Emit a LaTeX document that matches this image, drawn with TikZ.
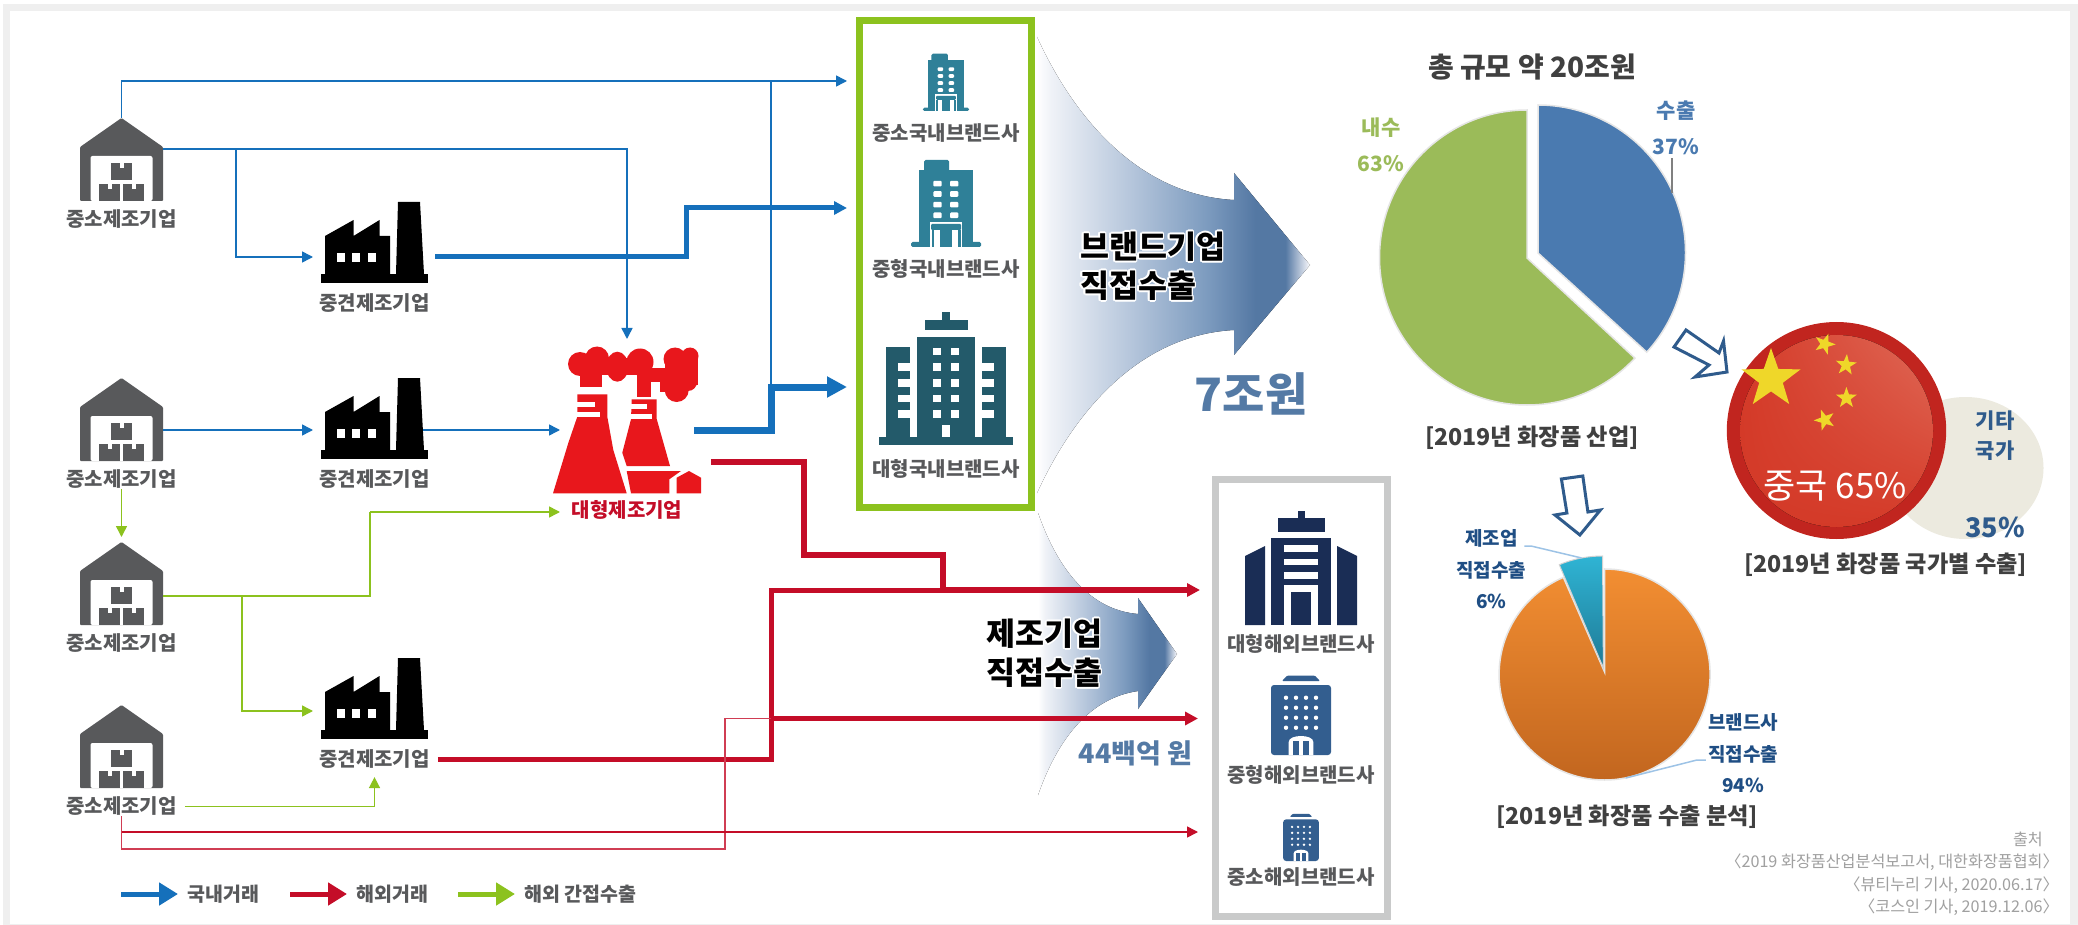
\documentclass[tikz,border=0pt]{standalone}
\usepackage{fontspec}
\usepackage{contour}
\setmainfont{Noto Sans CJK KR}
\usetikzlibrary{arrows.meta,calc,shapes.geometric,shadings}
\contourlength{1.6pt}
\definecolor{inkgray}{HTML}{58595B}
\definecolor{titlegray}{HTML}{404040}
\definecolor{srcgray}{HTML}{A0A0A0}
\definecolor{framegray}{HTML}{EFEFEF}
\definecolor{boxgray}{HTML}{C9CACA}
\definecolor{lineblue}{HTML}{1570BB}
\definecolor{linered}{HTML}{C40D28}
\definecolor{linegreen}{HTML}{8CC21E}
\definecolor{plantred}{HTML}{E8171C}
\definecolor{depotgray}{HTML}{58595B}
\definecolor{tealmid}{HTML}{2F8098}
\definecolor{tealdark}{HTML}{235A6A}
\definecolor{navybig}{HTML}{1A2D55}
\definecolor{navymid}{HTML}{335E8F}
\definecolor{steel}{HTML}{547AA5}
\definecolor{piegreen}{HTML}{9BBB59}
\definecolor{pieblue}{HTML}{4A7AB0}
\definecolor{deepblue}{HTML}{2F5B8C}
\definecolor{labelblue}{HTML}{1F4E84}
\definecolor{ringred}{HTML}{C1251F}
\definecolor{flagred}{HTML}{D43A28}
\definecolor{flagglow}{HTML}{E06A58}
\definecolor{flagyellow}{HTML}{EFD729}
\definecolor{beige}{HTML}{ECEADF}
\definecolor{pietop}{HTML}{F28E32}
\definecolor{piebottom}{HTML}{C2661F}
\definecolor{wedgetop}{HTML}{2FB4D4}
\definecolor{wedgebottom}{HTML}{1F7A96}
\definecolor{leaderblue}{HTML}{9DC3E6}
\pgfdeclarehorizontalshading{bigfade}{100bp}{rgb(0bp)=(1,1,1);rgb(25bp)=(1,1,1);rgb(27.5bp)=(.94,.95,.97);rgb(43.5bp)=(.69,.76,.85);rgb(56bp)=(.49,.61,.75);rgb(65bp)=(.33,.47,.64);rgb(70.5bp)=(.33,.47,.64);rgb(74.25bp)=(.87,.89,.93);rgb(75bp)=(1,1,1);rgb(100bp)=(1,1,1)}
\tikzset{
	pics/warehouse/.style={code={
		\fill[depotgray,rounded corners=1pt] (0,0) -- (41.5,29) -- (41.5,83) -- (-41.5,83) -- (-41.5,29) -- cycle;
		\fill[white,rounded corners=2pt] (-31,38) rectangle (31,83);
		\foreach \bx/\by in {-10.5/45,-22.5/66,1.5/66} {
			\fill[depotgray] (\bx,\by) rectangle ++(21,17);
			\fill[white] (\bx+8.5,\by) rectangle ++(4,5);
		}
	}},
	pics/factory/.style={code={
		\fill[black] (-53.5,72) rectangle (53.5,81);
		\fill[black] (23.5,0) -- (45.5,0) -- (49.5,72) -- (21.5,72) -- cycle;
		\fill[black] (-49.5,34) -- (-21,18) -- (-21,34) -- (5,18) -- (5,34) -- (15.5,34) -- (15.5,72) -- (-49.5,72) -- cycle;
		\foreach \wx in {-37.5,-22.5,-7} {\fill[white] (\wx,51) rectangle ++(8,9);}
	}},
	pics/tower/.style={code={
		\fill[#1] (-27,-77) rectangle (27,-5);
		\fill[#1,rounded corners=1.5pt] (-22,-87) rectangle (3,-70);
		\fill[#1,rounded corners=1.5pt] (-35,-5) rectangle (35,0);
		\foreach \wy in {-63.3,-53,-42.3,-31.7} {
			\fill[white,rounded corners=1pt] (-12.7,\wy-2.8) rectangle (-4.3,\wy+2.8);
			\fill[white,rounded corners=1pt] (4,\wy-2.8) rectangle (12.3,\wy+2.8);
		}
		\fill[white] (-16,-25) rectangle (16,0);
		\fill[#1,rounded corners=1pt] (-15,-23) rectangle (15,-17);
		\fill[#1] (-14.5,-17) rectangle (-12,0);
		\fill[#1] (12,-17) rectangle (14.5,0);
		\fill[#1] (-6,-17) rectangle (6,0);
	}},
	pics/slab/.style={code={
		\fill[#1] (-67,-8) rectangle (67,0);
		\fill[#1] (-29,-108) rectangle (29,-8);
		\fill[#1] (-21.5,-125) rectangle (21.5,-115);
		\fill[#1] (-4,-133) rectangle (4,-125);
		\fill[#1] (-60.3,-98) rectangle (-36,-8);
		\fill[#1] (36,-98) rectangle (60.3,-8);
		\foreach \wy in {-97.3,-81.7,-66,-50.3,-34.7} {
			\fill[white] (-13,\wy) rectangle ++(8,7.5);
			\fill[white] (4.7,\wy) rectangle ++(8,7.5);
		}
		\foreach \wy in {-81.7,-66,-50.3,-34.7} {
			\fill[white] (-47.7,\wy) rectangle ++(11.7,7.5);
			\fill[white] (36,\wy) rectangle ++(11.7,7.5);
		}
		\fill[white] (-4,-19.7) rectangle (4,-8);
	}},
	pics/hq/.style={code={
		\fill[#1] (-3.5,-114) rectangle (3.5,-107);
		\fill[#1] (-23.5,-107) rectangle (23.5,-93);
		\fill[#1] (-30,-87) rectangle (30,0);
		\fill[#1] (-56,0) -- (-56,-69) -- (-36,-79) -- (-36,0) -- cycle;
		\fill[#1] (56,0) -- (56,-69) -- (36,-79) -- (36,0) -- cycle;
		\foreach \wy in {-80,-66.3,-53} {\fill[white] (-16.7,\wy) rectangle ++(33.4,6.7);}
		\fill[white] (-16.7,-40) rectangle (16.7,0);
		\fill[#1] (-10,-33.3) rectangle (10,0);
	}},
	pics/dotted/.style={code={
		\fill[#1,rounded corners=3pt] (-30,-70) rectangle (30,0);
		\fill[#1,rounded corners=1pt] (-19,-74) -- (-14,-79.3) -- (14,-79.3) -- (19,-74) -- cycle;
		\foreach \dy in {-57.3,-47.3,-37.3,-27.3} {\foreach \dx in {-15,-5,5,15} {\fill[white] (\dx,\dy) circle[radius=2.2];}}
		\fill[white] (-12.3,0) -- (-12.3,-13) .. controls (-12.3,-21) and (12.3,-21) .. (12.3,-13) -- (12.3,0) -- cycle;
		\fill[#1] (-8,-14) rectangle (-2,0);
		\fill[#1] (2,-14) rectangle (8,0);
	}},
	iconbox/.style={inner sep=0,outer sep=0,minimum width=#1},
	lab/.style={inner sep=0,text=inkgray,font=\fontsize{20}{20}\selectfont\bfseries},
	chartcap/.style={inner sep=0,text=titlegray,font=\fontsize{23.2}{24}\selectfont\bfseries},
	tag/.style={inner sep=0,align=center,font=\fontsize{19}{31.5}\selectfont\bfseries,text=labelblue},
	src/.style={inner sep=0,anchor=east,text=srcgray,font=\fontsize{16.2}{16.5}\selectfont},
	bluethin/.style={draw=lineblue,line width=1.5pt},
	redthin/.style={draw=linered!80!white,line width=1.5pt},
	greenthin/.style={draw=linegreen,line width=1.5pt},
	arrowtip/.style={-{Triangle[length=#1pt,width=#1pt]}},
	hollow/.style={draw=deepblue,fill=white,line width=3pt,line join=miter},
	leader/.style={draw=#1,line width=1.5pt},
}
\begin{document}
\begin{tikzpicture}[x=1pt,y=-1pt]
	\useasboundingbox (0,0) rectangle (2078,925);
	\fill[framegray] (3,4) rectangle (2078,925);
	\fill[white] (10,11) rectangle (2070,924);

	\fill[shading=bigfade] (1037,37) .. controls (1075,120) and (1140,195) .. (1234,200) -- (1234,173) -- (1310,265) -- (1234,355) -- (1234,330) .. controls (1140,335) and (1075,410) .. (1037,493) -- cycle;
	\fill[shading=bigfade] (1038,513) .. controls (1058,570) and (1090,610) .. (1138,614) -- (1138,598) -- (1177,654) -- (1138,709) -- (1138,691) .. controls (1090,698) and (1058,738) .. (1038,795) -- cycle;

	\node[draw=linegreen,line width=7pt,minimum width=172pt,minimum height=487pt,inner sep=0] (dbox) at (945.5,264) {};
	\node[draw=boxgray,line width=7pt,minimum width=172pt,minimum height=437pt,inner sep=0] (gbox) at (1301.5,698) {};

	\foreach \id/\top in {1/118,2/378,3/542,4/705} {
		\node[iconbox=83pt,minimum height=83pt] (wh\id) at (121.5,\top+41.5) {};
		\pic at (wh\id.north) {warehouse};
		\node[lab] (wlab\id) at (121.5,\top+101.5) {중소제조기업};
	}
	\foreach \id/\top in {1/202,2/378,3/658} {
		\node[iconbox=107pt,minimum height=81pt] (fac\id) at (374.5,\top+40.5) {};
		\pic at (fac\id.north) {factory};
		\node[lab] (flab\id) at (374.5,\top+101.5) {중견제조기업};
	}

	\node[iconbox=134pt,minimum height=146pt] (plant) at (627,420) {};
	\begin{scope}[plantred]
		% smoke
		\fill (580,364) circle[radius=12];
		\fill (597,358.5) circle[radius=12];
		\fill (617.3,366.7) ellipse[x radius=11,y radius=15];
		\fill (640,362) circle[radius=13.5];
		\fill (575,358) rectangle (645,375);
		\fill (580,372) rectangle (601.7,386.7);
		\fill (636.7,365) rectangle (651,396.7);
		\fill (638.3,368.3) rectangle (665,381.7);
		\fill (660,376.7) rectangle (678.3,392);
		\fill (675,359) circle[radius=11.5];
		\fill (690,356) circle[radius=8.5];
		\fill (665,360) rectangle (684,385);
		\fill (678.3,355) rectangle (698.3,385);
		\fill (676.7,390) circle[radius=12];
		\fill (688,382) circle[radius=9];
		% towers
		\fill (577.3,394.3) -- (607.3,394.3) -- (607.3,416.7) -- (613.3,450) -- (626.7,493.3) -- (553,493.3) -- (568.3,443) -- (577.3,416.7) -- cycle;
		\fill (631.7,399.3) -- (656.7,399.3) -- (656.7,419) -- (670,466) -- (626.7,466) -- (622.3,452.7) -- (631,419.3) -- cycle;
		\fill (631,493.3) -- (626.7,471) -- (681,471) -- (669.3,479.3) -- (669.3,493.3) -- cycle;
		\fill (676.7,493.3) -- (676.7,477.7) -- (689,471) -- (701,477.7) -- (701,493.3) -- cycle;
	\end{scope}
	\fill[white] (576,402) rectangle (595,406.7);
	\fill[white] (576,411.7) rectangle (600,416.7);
	\fill[white] (630,404.3) rectangle (646.7,409.3);
	\fill[white] (630,414) rectangle (651.7,419.3);
	\node[lab,text=linered] (plab) at (627,510) {대형제조기업};

	\node[iconbox=92pt,minimum height=57pt] (b1) at (946,82.5) {};
	\pic[scale=.66] at (b1.south) {tower=tealmid};
	\node[lab] (b1lab) at (946,133) {중소국내브랜드사};
	\node[iconbox=70pt,minimum height=86pt] (b2) at (946,204) {};
	\pic at (b2.south) {tower=tealmid};
	\node[lab] (b2lab) at (946,269) {중형국내브랜드사};
	\node[iconbox=134pt,minimum height=133pt] (b3) at (946,378.5) {};
	\pic at (b3.south) {slab=tealdark};
	\node[lab] (b3lab) at (946,469) {대형국내브랜드사};

	\node[iconbox=112pt,minimum height=114pt] (o1) at (1301,568) {};
	\pic at (o1.south) {hq=navybig};
	\node[lab] (o1lab) at (1301,644) {대형해외브랜드사};
	\node[iconbox=60pt,minimum height=79pt] (o2) at (1301,715.5) {};
	\pic at (o2.south) {dotted=navymid};
	\node[lab] (o2lab) at (1301,775) {중형해외브랜드사};
	\node[iconbox=36pt,minimum height=47pt] (o3) at (1301,837.5) {};
	\pic[scale=.595] at (o3.south) {dotted=navymid};
	\node[lab] (o3lab) at (1301,877) {중소해외브랜드사};

	\coordinate (dom1) at (dbox.west |- 0,81);
	\coordinate (dom2) at (dbox.west |- 0,208);
	\coordinate (dom3) at (dbox.west |- 0,387);
	\coordinate (ovs1) at (gbox.west |- 0,590);
	\coordinate (ovs2) at (gbox.west |- 0,718.5);
	\coordinate (ovs3) at (gbox.west |- 0,832);
	\coordinate (wh1out) at ($(wh1.north east)+(0,31)$);
	\coordinate (wh2out) at ($(wh2.north east)+(0,52)$);
	\coordinate (wh3out) at ($(wh3.north east)+(0,54)$);
	\coordinate (fac1in) at ($(fac1.north west)+(0,55)$);
	\coordinate (fac2in) at ($(fac2.north west)+(0,52)$);
	\coordinate (fac3in) at ($(fac3.north west)+(0,53)$);
	\coordinate (fac2out) at ($(fac2.north east)+(-5,52)$);
	\coordinate (plantblue) at (plant.east |- 0,430);
	\coordinate (plantred) at (plant.east |- 0,462);
	\coordinate (plantgreen) at (plant.west |- 0,512);
	\coordinate (split) at (771,0);

	\draw[bluethin,arrowtip=11,shorten >=9pt] (wh1.north) |- (dom1);
	\draw[bluethin,arrowtip=11,shorten >=8pt] (wh1out) -| (plant.north);
	\draw[bluethin,arrowtip=11,shorten >=8pt] (wh1out -| 236,0) |- (fac1in);
	\draw[bluethin,arrowtip=11,shorten >=8pt] (wh2out) -- (fac2in);
	\draw[bluethin,arrowtip=11] (fac2out) -- (plant.west |- fac2out);
	\draw[bluethin] (split |- dom1) -- (split |- dom3);
	\draw[draw=lineblue,line width=5pt,arrowtip=13,shorten <=7pt,shorten >=9pt] (fac1.east |- fac1in) -| (686,208) -- (dom2);
	\draw[draw=lineblue,line width=7pt,arrowtip=20,shorten >=9pt] (plantblue) -| (split |- dom3) -- (dom3);

	\draw[greenthin,arrowtip=11,shorten >=5pt] (wlab2.south) -- (wh3.north);
	\draw[greenthin] (wh3out) -| (370,512);
	\draw[greenthin,arrowtip=11] (370,512) -- (plantgreen);
	\draw[greenthin,arrowtip=11,shorten >=8pt] (wh3out -| 242,0) |- (fac3in);
	\draw[greenthin,arrowtip=11,shorten <=8pt,shorten >=8pt] (wlab4.east) -| (flab3.south);

	\draw[draw=linered,line width=6pt,arrowtip=13,shorten >=12pt] (plantred -| 711,0) -| (804,555) -| (943,590) -- (ovs1);
	\draw[draw=linered,line width=5pt,shorten <=8pt] (flab3.east) -| (split |- ovs1) -- (943,590);
	\draw[draw=linered,line width=5pt,arrowtip=13,shorten >=14pt] (split |- ovs2) -- (ovs2);
	\draw[redthin] (wlab4.south) |- (725,849) |- (split |- ovs2);
	\draw[draw=linered,line width=1.5pt,arrowtip=11,shorten >=14pt] (121.5,832) -- (ovs3);

	\foreach \id/\col/\txt/\tx in {1/lineblue/국내거래/187,2/linered/해외거래/356,3/linegreen/해외 간접수출/524} {
		\node[lab,anchor=west,font=\fontsize{19.5}{20}\selectfont\bfseries] (leg\id) at (\tx,894) {\txt};
		\draw[draw=\col,line width=5pt,-{Triangle[length=19pt,width=22pt]},shorten >=9pt] ([xshift=-66pt]leg\id.west) -- (leg\id.west);
	}

	\node[inner sep=0,align=left,anchor=west,font=\fontsize{31.5}{39}\selectfont\bfseries] (brand) at (1080,267) {\contour{white}{브랜드기업}\\\contour{white}{직접수출}};
	\node[inner sep=0,align=left,anchor=west,font=\fontsize{31.5}{39}\selectfont\bfseries] (maker) at (986,654) {\contour{white}{제조기업}\\\contour{white}{직접수출}};
	\node[inner sep=0,text=steel,font=\fontsize{46}{46}\selectfont\bfseries] (seven) at (1251,394) {7조원};
	\node[inner sep=0,text=steel,font=\fontsize{27}{27}\selectfont\bfseries] (fortyfour) at (1135.5,753) {44백억 원};

	\filldraw[fill=piegreen,draw=black!10,line width=1.5pt] (1527,258) -- (1527,110) arc[start angle=-90,end angle=-317,radius=147.5] -- cycle;
	\filldraw[fill=pieblue,draw=black!10,line width=1.5pt] (1538,253) -- (1538,105) arc[start angle=-90,end angle=42.5,radius=147.5] -- cycle;
	\node[chartcap,font=\fontsize{28}{28}\selectfont\bfseries] (total) at (1532,67) {총 규모 약 20조원};
	\node[tag,text=piegreen,font=\fontsize{21}{36}\selectfont\bfseries] (dtag) at (1381,145) {내수\\63\%};
	\node[tag,text=pieblue,font=\fontsize{21}{36}\selectfont\bfseries] (xtag) at (1676,128) {수출\\37\%};
	\draw[leader=gray] (xtag.south -| 1672,0) ++(0,3) -- (1672,193);
	\node[chartcap] (cap1) at (1532,438) {[2019년 화장품 산업]};

	\draw[hollow] (1686,330) -- (1719,353) -- (1723.5,341) -- (1727,372) -- (1695,377) -- (1709,365) -- (1674,347) -- cycle;
	\draw[hollow] (1561.4,479) -- (1582.8,476) -- (1587.9,512) -- (1600.4,510) -- (1579.9,535) -- (1555,515) -- (1566.9,513) -- cycle;

	\fill[beige] (1965.5,468) ellipse[x radius=78,y radius=71];
	\fill[ringred] (1836.5,430.5) ellipse[x radius=109.7,y radius=108.5];
	\fill[upper right=flagglow,upper left=flagred,lower left=flagred,lower right=flagred] (1836.5,431) ellipse[x radius=96.5,y radius=96];
	\foreach \id/\sx/\sy/\sz/\rot in {0/1771/379/62/0,1/1824.7/344/22/-20,2/1846/365/22/-5,3/1846.4/398/22/0,4/1824.7/420/22/20} {
		\node[star,star points=5,star point ratio=2.5,fill=flagyellow,inner sep=0,minimum size=\sz pt,rotate=\rot] (flag\id) at (\sx,\sy) {};
	}
	\node[inner sep=0,text=white,font=\fontsize{35}{35}\selectfont] (china) at (1835,486) {중국 65\%};
	\node[tag,text=deepblue,font=\fontsize{21}{30}\selectfont\bfseries] (rest) at (1995,435.7) {기타\\국가};
	\node[inner sep=0,text=deepblue,font=\fontsize{27}{27}\selectfont\bfseries] (restval) at (1995,527) {35\%};
	\node[chartcap] (cap2) at (1885.6,565) {[2019년 화장품 국가별 수출]};

	\draw[draw=black!10,line width=1.5pt,top color=pietop,bottom color=piebottom] (1604.6,672) -- (1604.6,569) arc[start angle=-90,end angle=247,radius=105.5] -- cycle;
	\draw[draw=gray!35,line width=1pt,top color=wedgetop,bottom color=wedgebottom] (1603.4,668) -- (1602.5,556) arc[start angle=-90,end angle=-112.7,radius=112] -- cycle;
	\node[tag] (mtag) at (1491.3,569.5) {제조업\\직접수출\\6\%};
	\node[tag] (btag) at (1743,753.5) {브랜드사\\직접수출\\94\%};
	\draw[leader=leaderblue] (mtag.north east |- 0,546) ++(-2,0) -- (1531,546) -- (1581.6,558);
	\draw[leader=leaderblue] (btag.west |- 0,760) ++(-2,0) -- (1697,760) -- (1625.6,778);
	\node[chartcap] (cap3) at (1627.3,817) {[2019년 화장품 수출 분석]};

	\node[src] (srcA) at (2043,839) {출처};
	\node[src] (srcB) at (2059,862) {〈2019 화장품산업분석보고서, 대한화장품협회〉};
	\node[src] (srcC) at (2059,885) {〈뷰티누리 기사, 2020.06.17〉};
	\node[src] (srcD) at (2059,907) {〈코스인 기사, 2019.12.06〉};
\end{tikzpicture}
\end{document}
